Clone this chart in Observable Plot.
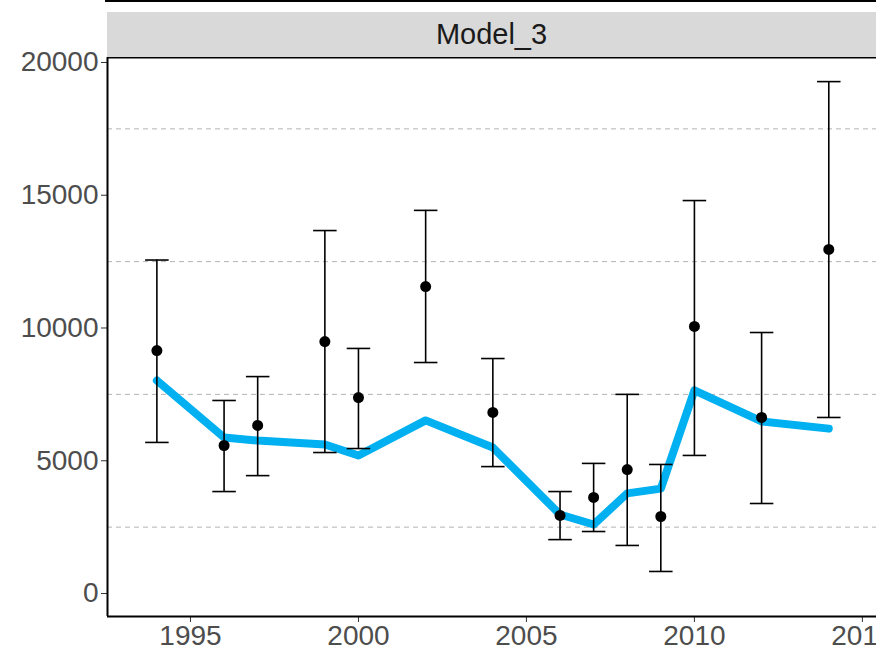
<!DOCTYPE html><html><head><meta charset="utf-8">
<script src="https://cdn.jsdelivr.net/npm/d3@7"></script>
<script src="https://cdn.jsdelivr.net/npm/@observablehq/plot@0.6"></script>
<style>body{margin:0;background:#fff;font-family:"Liberation Sans",Arial,sans-serif}#w{position:relative;width:876px;height:653px;overflow:hidden}
#topline{position:absolute;left:105px;top:0;width:771px;height:2px;background:#000}
#strip{position:absolute;left:107px;top:12px;width:769px;height:45px;background:#d9d9d9;font-size:29px;color:#1a1a1a;text-align:center;line-height:45px}
svg{position:absolute;left:0;top:0}
</style></head><body><div id="w"></div>
<script>
const years=[1994,1996,1997,1999,2000,2002,2004,2006,2007,2008,2009,2010,2012,2014];
const obs=[9150,5575,6330,9490,7380,11560,6820,2940,3620,4670,2900,10060,6630,12960];
const lower=[5690,3840,4440,5310,5460,8700,4780,2030,2335,1810,830,5200,3390,6630];
const upper=[12560,7270,8170,13670,9230,14430,8850,3840,4900,7500,4860,14800,9830,19280];
const fit=[8020,5876,5760,5610,5200,6520,5500,2975,2600,3770,3950,7650,6480,6210];
const xTicks=[1995,2000,2005,2010,2015];
const yTicks=[0,5000,10000,15000,20000];
const grid=[2500,7500,12500,17500];
const data=years.map((y,i)=>({year:y,obs:obs[i],lo:lower[i],hi:upper[i],fit:fit[i]}));
const caps=data.flatMap(d=>[{year:d.year,v:d.lo},{year:d.year,v:d.hi}]);
const x0=1992.53,x1=2015.42,y0=-866,y1=20188;
const p=Plot.plot({width:876,height:653,marginLeft:107,marginTop:57,marginBottom:37,marginRight:0,
style:{fontFamily:"Liberation Sans, Arial, sans-serif",background:"transparent"},
x:{domain:[x0,x1]},
y:{domain:[y0,y1]},
marks:[
Plot.axisX(xTicks,{tickFormat:d=>String(d),label:null,tickSize:6,tickPadding:3,fontSize:28,fill:"#4d4d4d",stroke:"#333"}),
Plot.axisY(yTicks,{tickFormat:d=>String(d),label:null,tickSize:6,tickPadding:3,fontSize:28,fill:"#4d4d4d",stroke:"#333"}),
Plot.ruleY(grid,{stroke:"#b3b3b3",strokeDasharray:"5,4",strokeWidth:1}),
Plot.line(data,{x:"year",y:"fit",stroke:"#00b0f0",strokeWidth:8}),
Plot.ruleX(data,{x:"year",y1:"lo",y2:"hi",stroke:"#000",strokeWidth:1.6}),
Plot.link(caps,{x1:d=>d.year-0.35,x2:d=>d.year+0.35,y1:"v",y2:"v",stroke:"#000",strokeWidth:1.6}),
Plot.dot(data,{x:"year",y:"obs",fill:"#000",r:5.5}),
Plot.ruleX([x0],{stroke:"#000",strokeWidth:2}),
Plot.ruleY([y0],{stroke:"#000",strokeWidth:2}),
Plot.ruleY([y1],{stroke:"#000",strokeWidth:2})
]});
const w=document.getElementById("w");
w.appendChild(p);
w.insertAdjacentHTML("beforeend",'<div id="topline"></div><div id="strip">Model_3</div>');
</script></body></html>
